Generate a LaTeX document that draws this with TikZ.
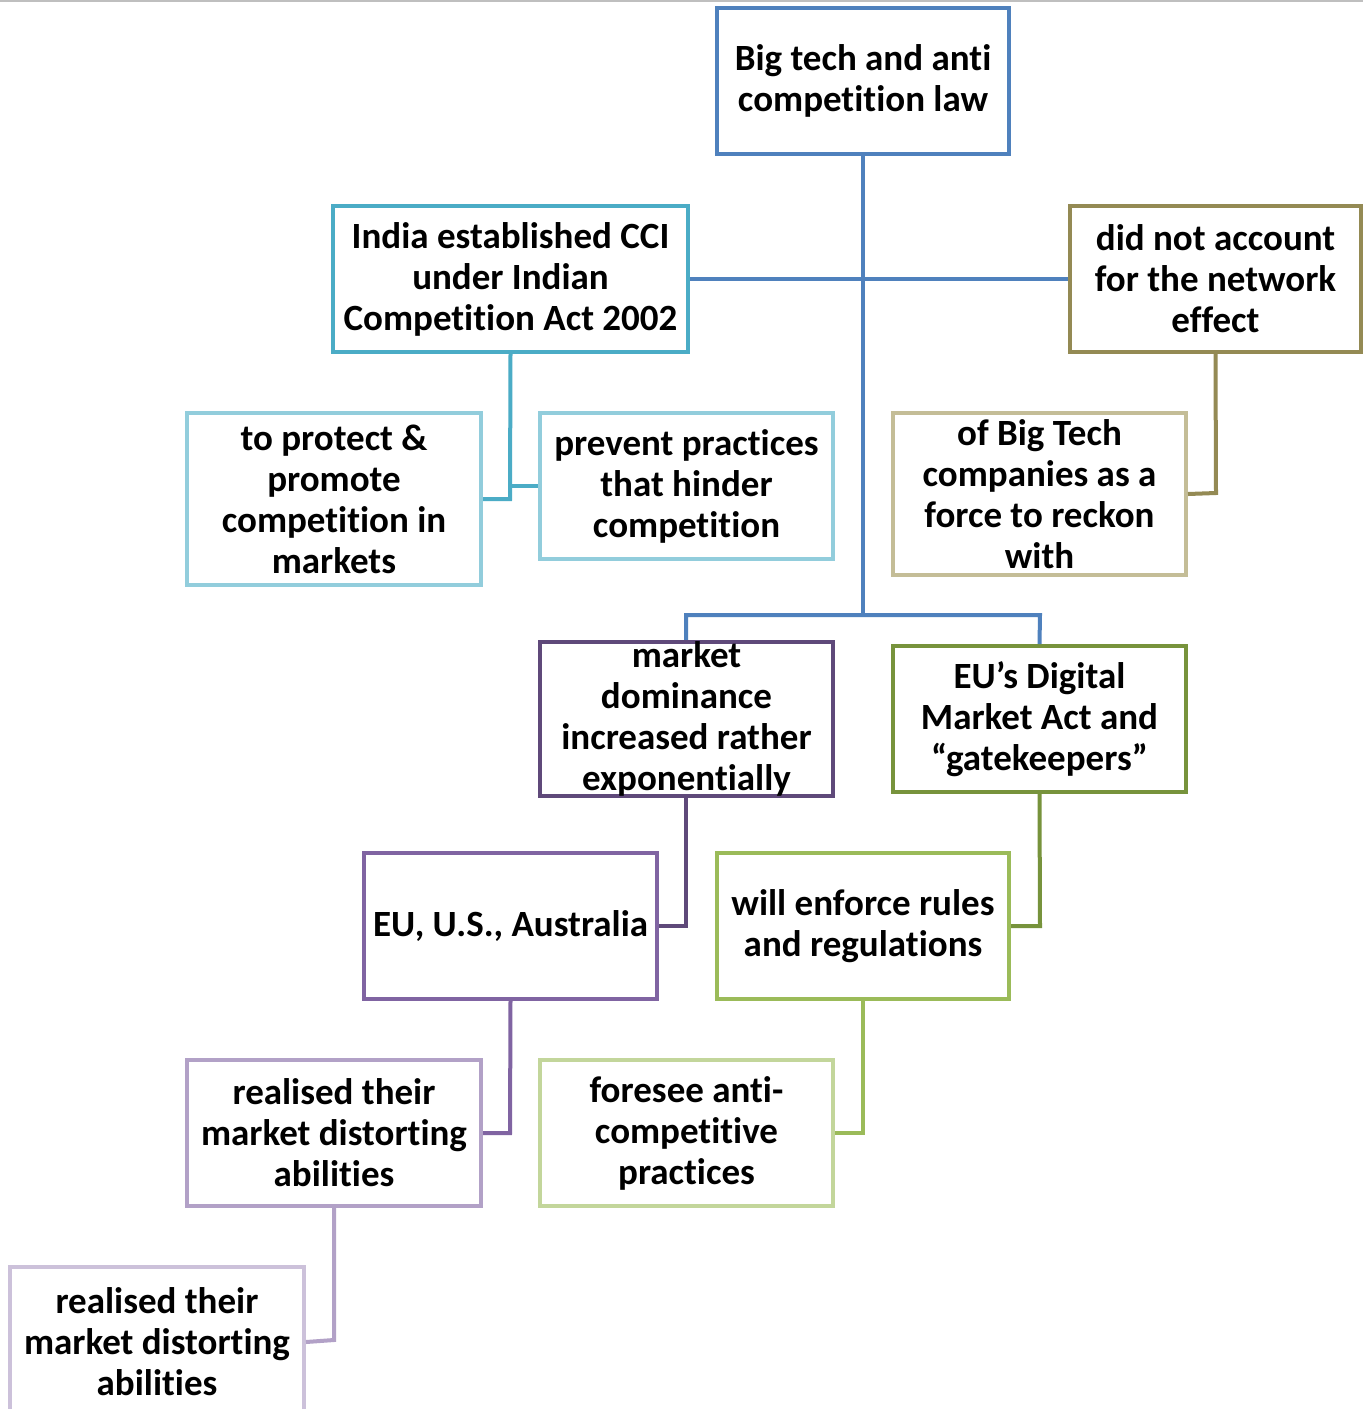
\documentclass[tikz,border=0pt]{standalone}
\usepackage{fontspec}
\setmainfont{Carlito}[BoldFont={Carlito Bold}, Ligatures=NoCommon, RawFeature={-liga;-clig;-dlig}]
\definecolor{cblue}{HTML}{4F81BD}
\definecolor{cteal}{HTML}{4BACC6}
\definecolor{colive}{HTML}{948A54}
\definecolor{clblue}{HTML}{92CDDC}
\definecolor{ctan}{HTML}{C4BD97}
\definecolor{cdpurple}{HTML}{5F497A}
\definecolor{cgreen}{HTML}{77933C}
\definecolor{cpurple}{HTML}{8064A2}
\definecolor{clgreen}{HTML}{9BBB59}
\definecolor{clav}{HTML}{B2A1C7}
\definecolor{cpgreen}{HTML}{C3D69B}
\definecolor{cplav}{HTML}{CCC1DA}
\tikzset{
  box/.style={draw=#1, line width=4pt, fill=white, inner sep=0pt, align=center,
    font=\fontsize{37}{41}\selectfont\bfseries, text=black},
  link/.style={draw=#1, line width=4pt, line join=miter},
}
\begin{document}
\begin{tikzpicture}[x=1pt,y=-1pt]
\useasboundingbox (0,0) rectangle (1363,1409);
\fill[white] (0,0) rectangle (1363,1409);
\draw[gray!50, line width=1.5pt] (0,1) -- (1363,1);
% junction points
\coordinate (hub) at (863,615);
\coordinate (ccijoin) at (510,499);
\coordinate (dnajoin) at (1216,493);
\coordinate (mdjoin) at (686,926);
\coordinate (dmajoin) at (1040,926);
\coordinate (eujoin) at (510,1133);
\coordinate (wejoin) at (863,1133);
\coordinate (r1join) at (334,1340);
% nodes
\node[box=cblue, minimum width=292pt, minimum height=146pt] (root) at (863,81) {Big tech and anti\\competition law};
\node[box=cteal, minimum width=355pt, minimum height=146pt] (cci) at (510.5,279) {India established CCI\\under Indian\\Competition Act 2002};
\node[box=colive, minimum width=291pt, minimum height=146pt] (dna) at (1215.5,279) {did not account\\for the network\\effect};
\node[box=clblue, minimum width=294pt, minimum height=172pt] (prot) at (334,499) {to protect \&\\promote\\competition in\\markets};
\node[box=clblue, minimum width=293pt, minimum height=146pt] (prev) at (686.5,486) {prevent practices\\that hinder\\competition};
\node[box=ctan, minimum width=293pt, minimum height=162pt] (bt) at (1039.5,494) {of Big Tech\\companies as a\\force to reckon\\with};
\node[box=cgreen, minimum width=293pt, minimum height=146pt] (dma) at (1039.5,719) {EU’s Digital\\Market Act and\\“gatekeepers”};
\node[box=cpurple, minimum width=293pt, minimum height=146pt] (eu) at (510.5,926) {EU, U.S., Australia};
\node[box=clgreen, minimum width=292pt, minimum height=146pt] (we) at (863,926) {will enforce rules\\and regulations};
\node[box=clav, minimum width=294pt, minimum height=146pt] (r1) at (334,1133) {realised their\\market distorting\\abilities};
\node[box=cpgreen, minimum width=293pt, minimum height=146pt] (fs) at (686.5,1133) {foresee anti-\\competitive\\practices};
\node[box=cplav, minimum width=294pt, minimum height=150pt] (r2) at (157,1342) {realised their\\market distorting\\abilities};
% connectors
\draw[link=cblue] (root.south) -- (hub);
\draw[link=cblue] (cci.east) -- (dna.west);
\draw[link=cteal] (cci.south) -- (ccijoin) -- (prot.east);
\draw[link=cteal] (510,486) -- (prev.west);
\draw[link=colive] (dna.south) -- (dnajoin) -- (bt.east);
\draw[link=cpurple] (eu.south) -- (eujoin) -- (r1.east);
\draw[link=clgreen] (we.south) -- (wejoin) -- (fs.east);
\draw[link=clav] (r1.south) -- (r1join) -- (r2.east);
\draw[link=cdpurple] (686,792) -- (mdjoin) -- (eu.east);
\draw[link=cgreen] (dma.south) -- (dmajoin) -- (we.east);
\draw[link=cblue] (686,646) -- (686,615) -- (1040,615) -- (dma.north);
\node[box=cdpurple, minimum width=293pt, minimum height=146pt] (md) at (686.5,719) {market\\dominance\\increased rather\\exponentially};
\end{tikzpicture}
\end{document}
